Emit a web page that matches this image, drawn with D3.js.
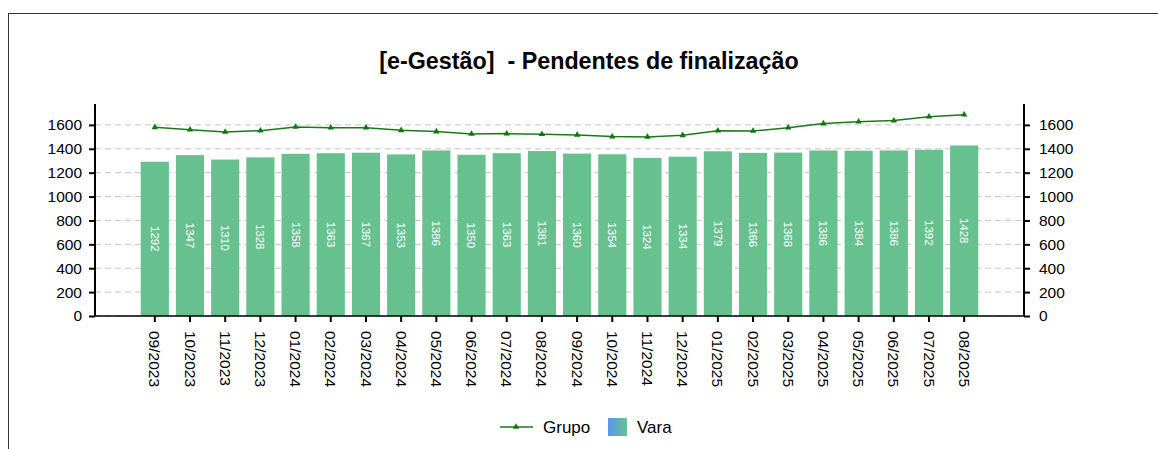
<!DOCTYPE html>
<html>
<head>
<meta charset="utf-8">
<script src="https://cdn.jsdelivr.net/npm/d3@7"></script>
<style>
  body { margin: 0; background: #fff; }
  text { font-family: "Liberation Sans", Arial, sans-serif; }
</style>
</head>
<body>
<div id="chart"></div>
<script>
const months = ["09/2023","10/2023","11/2023","12/2023","01/2024","02/2024","03/2024","04/2024",
    "05/2024","06/2024","07/2024","08/2024","09/2024","10/2024","11/2024","12/2024",
    "01/2025","02/2025","03/2025","04/2025","05/2025","06/2025","07/2025","08/2025"];
const vara = [1292,1347,1310,1328,1358,1363,1367,1353,1386,1350,1363,1381,
    1360,1354,1324,1334,1379,1366,1368,1386,1384,1386,1392,1428];
const grupo = [1580,1560,1541,1552,1583,1577,1577,1555,1544,1524,1527,1522,
    1516,1502,1499,1513,1552,1549,1577,1611,1627,1636,1669,1686];
const yTicks = [0,200,400,600,800,1000,1200,1400,1600];

const width = 1158;
const height = 449;
const plotLeft = 95, plotRight = 1024, plotTop = 104, plotBottom = 316;

const svg = d3.select("#chart")
    .append("svg")
    .attr("width", width)
    .attr("height", height);

// outer frame
svg.append("rect")
    .attr("x", 8.5).attr("y", 13.5)
    .attr("width", 1162).attr("height", 500)
    .attr("fill", "none")
    .attr("stroke", "#333");

svg.append("text")
    .attr("x", 589)
    .attr("y", 69)
    .attr("text-anchor", "middle")
    .attr("font-size", 23.3)
    .attr("font-weight", "bold")
    .style("white-space", "pre")
    .text("[e-Gestão]  - Pendentes de finalização");

const x = d3.scaleBand()
    .domain(months)
    .range([plotLeft, plotRight])
    .paddingInner(0.2)
    .paddingOuter(1.3);

const y = d3.scaleLinear()
    .domain([0, 1775])
    .range([plotBottom, plotTop]);

// grid
svg.selectAll(".grid")
    .data(yTicks)
    .enter()
    .append("line")
    .attr("x1", plotLeft).attr("x2", plotRight)
    .attr("y1", d => y(d)).attr("y2", d => y(d))
    .attr("stroke", "#c4c4c4")
    .attr("stroke-dasharray", "6,4");

// bars
svg.selectAll(".bar")
    .data(vara)
    .enter()
    .append("rect")
    .attr("x", (d, i) => x(months[i]))
    .attr("y", d => y(d))
    .attr("width", x.bandwidth())
    .attr("height", d => y(0) - y(d))
    .attr("fill", "#67c18f");

svg.selectAll(".barlabel")
    .data(vara)
    .enter()
    .append("text")
    .attr("transform", (d, i) => "translate(" + (x(months[i]) + x.bandwidth() / 2) + "," + ((y(d) + y(0)) / 2) + ") rotate(90)")
    .attr("text-anchor", "middle")
    .attr("dy", "0.35em")
    .attr("font-size", 11.5)
    .attr("fill", "#fff")
    .text(d => d);

// line
const line = d3.line()
    .x((d, i) => x(months[i]) + x.bandwidth() / 2)
    .y(d => y(d));

svg.append("path")
    .datum(grupo)
    .attr("d", line)
    .attr("fill", "none")
    .attr("stroke", "#1a7a1a")
    .attr("stroke-width", 1.5);

const tri = d3.symbol().type(d3.symbolTriangle).size(18);

svg.selectAll(".marker")
    .data(grupo)
    .enter()
    .append("path")
    .attr("d", tri)
    .attr("transform", (d, i) => "translate(" + (x(months[i]) + x.bandwidth() / 2) + "," + y(d) + ")")
    .attr("fill", "#0b7a0b");

// axes
const yLeft = d3.axisLeft(y).tickValues(yTicks).tickFormat(d3.format("d")).tickSize(6).tickPadding(7);
const yRight = d3.axisRight(y).tickValues(yTicks).tickFormat(d3.format("d")).tickSize(6).tickPadding(9);

const gl = svg.append("g").attr("transform", "translate(" + plotLeft + ",0)").call(yLeft);
const gr = svg.append("g").attr("transform", "translate(" + plotRight + ",0)").call(yRight);

[gl, gr].forEach(g => {
    g.select(".domain").attr("d", "M0," + plotTop + "V" + plotBottom).attr("stroke", "#000").attr("stroke-width", 2);
    g.selectAll(".tick line").attr("stroke", "#000").attr("stroke-width", 2);
    g.selectAll(".tick text").attr("font-size", 15.5).attr("fill", "#000");
});

svg.append("line")
    .attr("x1", plotLeft).attr("x2", plotRight)
    .attr("y1", plotBottom).attr("y2", plotBottom)
    .attr("stroke", "#000")
    .attr("stroke-width", 1.5);

const xAxis = d3.axisBottom(x).tickSize(6).tickPadding(0);
const gx = svg.append("g").attr("transform", "translate(0," + plotBottom + ")").call(xAxis);
gx.select(".domain").remove();
gx.selectAll(".tick line").attr("stroke", "#000").attr("stroke-width", 2);
gx.selectAll(".tick text")
    .attr("font-size", 15.5)
    .attr("fill", "#000")
    .attr("text-anchor", "start")
    .attr("transform", "translate(0,15) rotate(90)")
    .attr("x", 0)
    .attr("y", 0)
    .attr("dy", "0.35em");

// legend
const legend = svg.append("g").attr("transform", "translate(500,427)");
legend.append("line")
    .attr("x1", 0).attr("x2", 33)
    .attr("stroke", "#1a7a1a")
    .attr("stroke-width", 1.5);
legend.append("path")
    .attr("d", tri)
    .attr("transform", "translate(16,0)")
    .attr("fill", "#0b7a0b");
legend.append("text")
    .attr("x", 43).attr("dy", "0.35em")
    .attr("font-size", 17)
    .text("Grupo");

const grad = svg.append("defs").append("linearGradient").attr("id", "vg");
grad.append("stop").attr("offset", "0%").attr("stop-color", "#5b97f0");
grad.append("stop").attr("offset", "100%").attr("stop-color", "#67c18f");

legend.append("rect")
    .attr("x", 108).attr("y", -9)
    .attr("width", 19).attr("height", 18)
    .attr("fill", "url(#vg)");
legend.append("text")
    .attr("x", 137).attr("dy", "0.35em")
    .attr("font-size", 17)
    .text("Vara");
</script>
</body>
</html>
